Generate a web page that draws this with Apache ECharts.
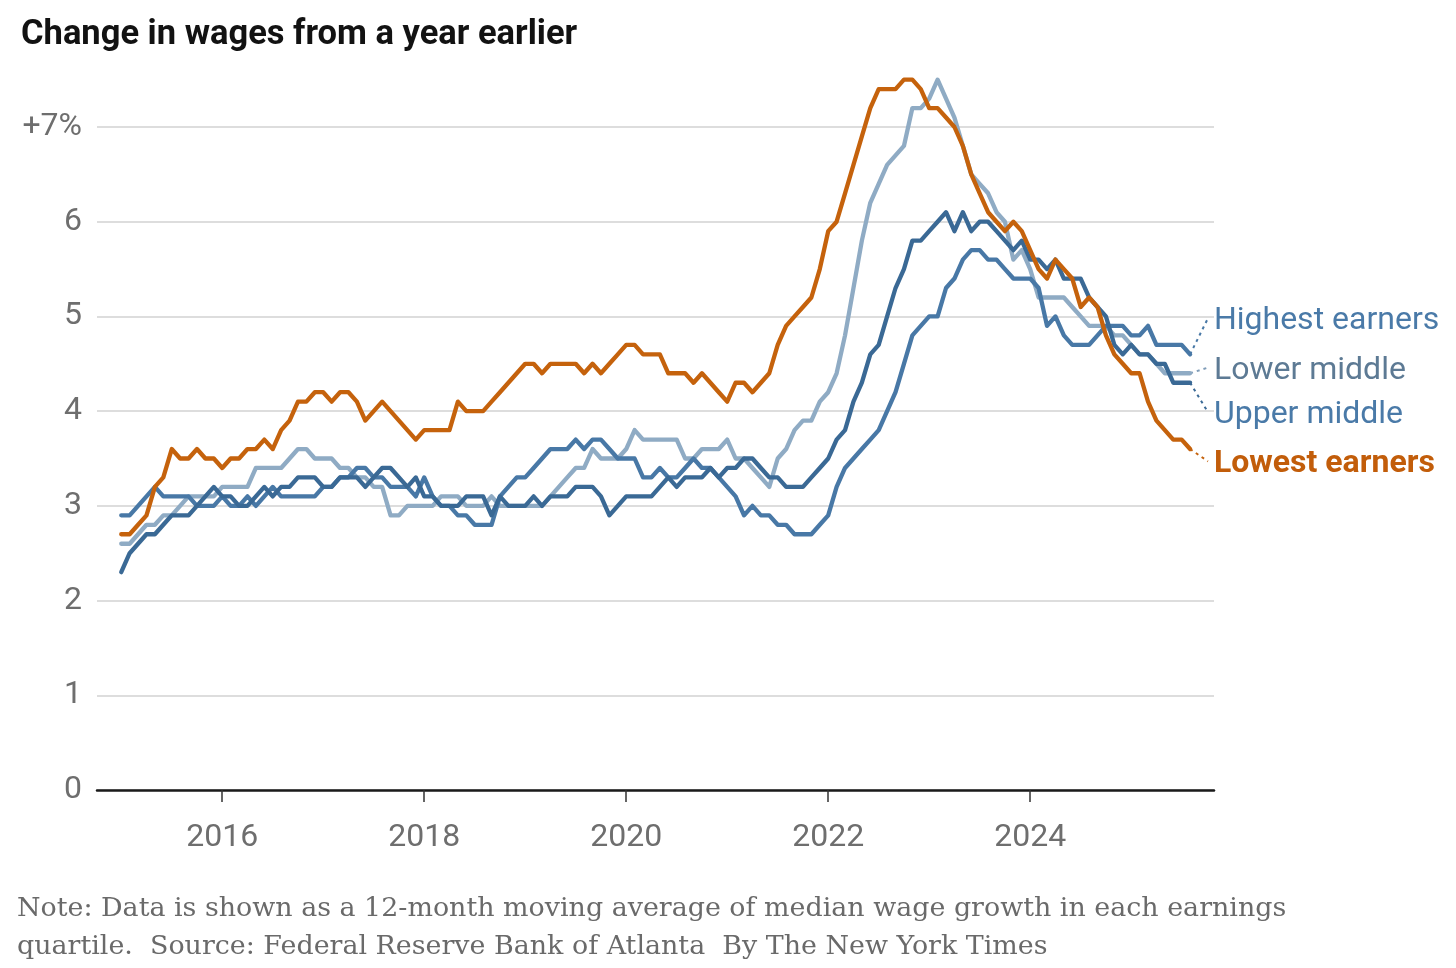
<!DOCTYPE html>
<html><head><meta charset="utf-8">
<script src="https://cdn.jsdelivr.net/npm/echarts@6/dist/echarts.min.js"></script>
<style>html,body{margin:0;padding:0;background:#fff}#c{width:1456px;height:968px}</style>
</head><body><div id="c"></div>
<script>
// Monthly 12-month moving average of median wage growth, Jan 2015 - Aug 2025
const startYear = 2015;
const lowest = [
  2.7,2.7,2.8,2.9,3.2,3.3,3.6,3.5,3.5,3.6,
  3.5,3.5,3.4,3.5,3.5,3.6,3.6,3.7,3.6,3.8,
  3.9,4.1,4.1,4.2,4.2,4.1,4.2,4.2,4.1,3.9,
  4.0,4.1,4.0,3.9,3.8,3.7,3.8,3.8,3.8,3.8,
  4.1,4.0,4.0,4.0,4.1,4.2,4.3,4.4,4.5,4.5,
  4.4,4.5,4.5,4.5,4.5,4.4,4.5,4.4,4.5,4.6,
  4.7,4.7,4.6,4.6,4.6,4.4,4.4,4.4,4.3,4.4,
  4.3,4.2,4.1,4.3,4.3,4.2,4.3,4.4,4.7,4.9,
  5.0,5.1,5.2,5.5,5.9,6.0,6.3,6.6,6.9,7.2,
  7.4,7.4,7.4,7.5,7.5,7.4,7.2,7.2,7.1,7.0,
  6.8,6.5,6.3,6.1,6.0,5.9,6.0,5.9,5.7,5.5,
  5.4,5.6,5.5,5.4,5.1,5.2,5.1,4.8,4.6,4.5,
  4.4,4.4,4.1,3.9,3.8,3.7,3.7,3.6
];
const lowerMiddle = [
  2.6,2.6,2.7,2.8,2.8,2.9,2.9,3.0,3.1,3.1,
  3.1,3.1,3.2,3.2,3.2,3.2,3.4,3.4,3.4,3.4,
  3.5,3.6,3.6,3.5,3.5,3.5,3.4,3.4,3.3,3.3,
  3.2,3.2,2.9,2.9,3.0,3.0,3.0,3.0,3.1,3.1,
  3.1,3.0,3.0,3.0,3.1,3.0,3.0,3.0,3.0,3.0,
  3.0,3.1,3.2,3.3,3.4,3.4,3.6,3.5,3.5,3.5,
  3.6,3.8,3.7,3.7,3.7,3.7,3.7,3.5,3.5,3.6,
  3.6,3.6,3.7,3.5,3.5,3.4,3.3,3.2,3.5,3.6,
  3.8,3.9,3.9,4.1,4.2,4.4,4.8,5.3,5.8,6.2,
  6.4,6.6,6.7,6.8,7.2,7.2,7.3,7.5,7.3,7.1,
  6.8,6.5,6.4,6.3,6.1,6.0,5.6,5.7,5.5,5.2,
  5.2,5.2,5.2,5.1,5.0,4.9,4.9,4.9,4.8,4.8,
  4.7,4.6,4.6,4.5,4.4,4.4,4.4,4.4
];
const upperMiddle = [
  2.3,2.5,2.6,2.7,2.7,2.8,2.9,2.9,2.9,3.0,
  3.1,3.2,3.1,3.1,3.0,3.0,3.1,3.2,3.1,3.2,
  3.2,3.3,3.3,3.3,3.2,3.2,3.3,3.3,3.3,3.2,
  3.3,3.4,3.4,3.3,3.2,3.3,3.1,3.1,3.0,3.0,
  3.0,3.1,3.1,3.1,2.9,3.1,3.0,3.0,3.0,3.1,
  3.0,3.1,3.1,3.1,3.2,3.2,3.2,3.1,2.9,3.0,
  3.1,3.1,3.1,3.1,3.2,3.3,3.2,3.3,3.3,3.3,
  3.4,3.3,3.4,3.4,3.5,3.5,3.4,3.3,3.3,3.2,
  3.2,3.2,3.3,3.4,3.5,3.7,3.8,4.1,4.3,4.6,
  4.7,5.0,5.3,5.5,5.8,5.8,5.9,6.0,6.1,5.9,
  6.1,5.9,6.0,6.0,5.9,5.8,5.7,5.8,5.6,5.6,
  5.5,5.6,5.4,5.4,5.4,5.2,5.1,5.0,4.7,4.6,
  4.7,4.6,4.6,4.5,4.5,4.3,4.3,4.3
];
const highest = [
  2.9,2.9,3.0,3.1,3.2,3.1,3.1,3.1,3.1,3.0,
  3.0,3.0,3.1,3.0,3.0,3.1,3.0,3.1,3.2,3.1,
  3.1,3.1,3.1,3.1,3.2,3.2,3.3,3.3,3.4,3.4,
  3.3,3.3,3.2,3.2,3.2,3.1,3.3,3.1,3.0,3.0,
  2.9,2.9,2.8,2.8,2.8,3.1,3.2,3.3,3.3,3.4,
  3.5,3.6,3.6,3.6,3.7,3.6,3.7,3.7,3.6,3.5,
  3.5,3.5,3.3,3.3,3.4,3.3,3.3,3.4,3.5,3.4,
  3.4,3.3,3.2,3.1,2.9,3.0,2.9,2.9,2.8,2.8,
  2.7,2.7,2.7,2.8,2.9,3.2,3.4,3.5,3.6,3.7,
  3.8,4.0,4.2,4.5,4.8,4.9,5.0,5.0,5.3,5.4,
  5.6,5.7,5.7,5.6,5.6,5.5,5.4,5.4,5.4,5.3,
  4.9,5.0,4.8,4.7,4.7,4.7,4.8,4.9,4.9,4.9,
  4.8,4.8,4.9,4.7,4.7,4.7,4.7,4.6
];
const yearTicks = [2016, 2018, 2020, 2022, 2024];
const seriesNames = ['Highest earners', 'Lower middle', 'Upper middle', 'Lowest earners'];
const labelValues = [4.98, 4.46, 3.99, 3.47];   // where each end label sits on the value scale
const labelYear = 2025.76;                       // where the dotted leader lines end

const months = lowest.map((_, i) => startYear + i / 12);
const pair = arr => arr.map((v, i) => [months[i], v]);

const colors = {
  'Highest earners': '#4878a6',
  'Lower middle': '#8fabc4',
  'Upper middle': '#3a6995',
  'Lowest earners': '#c5620c'
};
const labelColors = {
  'Highest earners': '#4a7aa8',
  'Lower middle': '#5d7a94',
  'Upper middle': '#4a7aa8',
  'Lowest earners': '#c25d0a'
};
const leaderColors = {
  'Highest earners': '#4878a6',
  'Lower middle': '#7f9cb8',
  'Upper middle': '#3a6995',
  'Lowest earners': '#c5620c'
};
const dataByName = {
  'Highest earners': highest,
  'Lower middle': lowerMiddle,
  'Upper middle': upperMiddle,
  'Lowest earners': lowest
};
const FONT = 'Roboto, "Noto Sans", sans-serif';
const SERIF = '"DejaVu Serif", "Liberation Serif", serif';
const drawOrder = ['Lower middle', 'Highest earners', 'Upper middle', 'Lowest earners'];

const series = [];
drawOrder.forEach(name => {
  series.push({
    name, type: 'line', data: pair(dataByName[name]),
    showSymbol: false, clip: false, smooth: false,
    lineStyle: { color: colors[name], width: 4.3, join: 'round', cap: 'round' },
    z: 3
  });
});
seriesNames.forEach((name, k) => {
  const arr = dataByName[name];
  series.push({
    name: name + ' label', type: 'line', clip: false, showSymbol: false,
    data: [[months[arr.length - 1], arr[arr.length - 1]], [labelYear, labelValues[k]]],
    lineStyle: { color: leaderColors[name], width: 2, type: [3, 4] },
    endLabel: {
      show: true, formatter: name, distance: 6, offset: [0, 3],
      color: labelColors[name], fontFamily: FONT,
      fontSize: 32, fontWeight: name === 'Lowest earners' ? 'bold' : 'normal'
    },
    z: 2
  });
});

const chart = echarts.init(document.getElementById('c'), null, { renderer: 'canvas' });
chart.setOption({
  animation: false,
  backgroundColor: '#fff',
  title: {
    text: 'Change in wages from a year earlier',
    left: 16, top: 13,
    textStyle: { fontFamily: FONT, fontSize: 34.5, fontWeight: 'bold', color: '#121212' }
  },
  grid: { left: 97, right: 242, top: 127, bottom: 178, containLabel: false },
  xAxis: {
    type: 'value', min: 2014.76, max: 2025.82,
    axisLine: { show: true, lineStyle: { color: '#1a1a1a', width: 2.5 } },
    axisTick: { show: true, customValues: yearTicks, length: 12, lineStyle: { color: '#333', width: 1.5 } },
    axisLabel: { customValues: yearTicks, margin: 32, fontFamily: FONT, fontSize: 32, color: '#6e6e6e',
      formatter: v => String(Math.round(v)) },
    splitLine: { show: false }
  },
  yAxis: {
    type: 'value', min: 0, max: 7, interval: 1,
    axisLine: { show: false }, axisTick: { show: false },
    axisLabel: {
      margin: 15, fontFamily: FONT, fontSize: 32, color: '#6e6e6e', padding: [5, 0, 0, 0],
      formatter: v => v === 7 ? '+7%' : String(v)
    },
    splitLine: { show: true, lineStyle: { color: '#dddddd', width: 2 } }
  },
  series,
  graphic: [
    { type: 'text', left: 17, top: 896, style: {
      text: 'Note: Data is shown as a 12-month moving average of median wage growth in each earnings',
      font: '26.9px ' + SERIF, fill: '#6a6a6a' } },
    { type: 'text', left: 17, top: 934, style: {
      text: 'quartile.  Source: Federal Reserve Bank of Atlanta  By The New York Times',
      font: '26.9px ' + SERIF, fill: '#6a6a6a' } }
  ]
});
</script></body></html>
